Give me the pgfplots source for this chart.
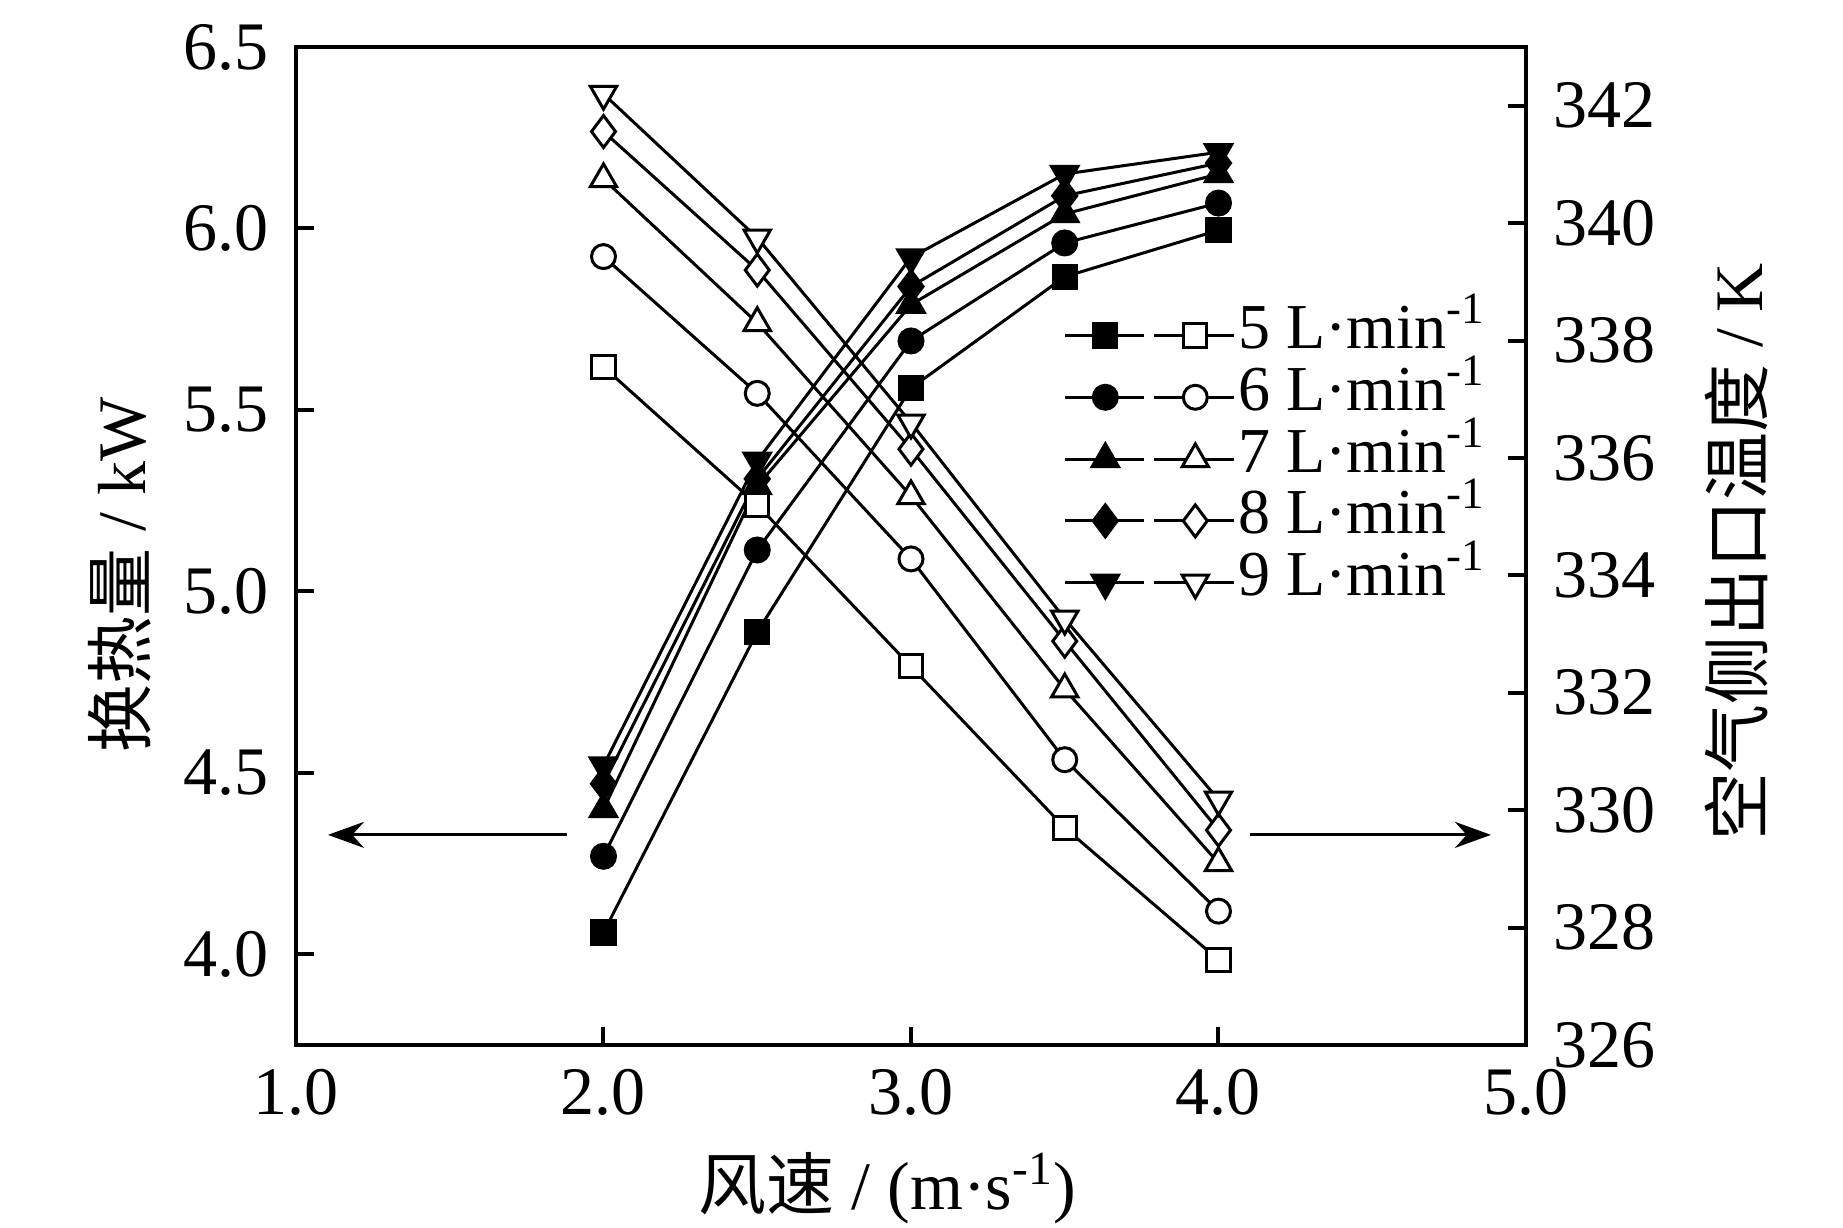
\documentclass[border=0pt]{standalone}
\usepackage{fontspec}
\setmainfont{Liberation Serif}
\newfontfamily\cjk{Noto Sans CJK SC}
\usepackage{pgfplots}
\pgfplotsset{compat=1.18}
\usetikzlibrary{arrows.meta}
\newcommand\fs{\fontsize{17bp}{20bp}\selectfont}
\newcommand\fl{\fontsize{16bp}{19bp}\selectfont}
\pgfplotsset{
  common/.style={
    scale only axis, width=307.5bp, height=249.5bp,
    xmin=1, xmax=5,
    tick align=inside, major tick length=4.5bp,
    axis line style={line width=1bp},
    every tick/.style={line width=1bp, black},
    /pgf/number format/assume math mode=true,
    tick label style={font=\fs},
    every axis plot/.append style={black, line width=0.75bp, mark options={solid, line width=0.75bp}},
  },
}
\tikzset{
  fsq/.style={mark=square*, mark size=2.9bp, mark options={fill=black}},
  fci/.style={mark=*, mark size=3bp, mark options={fill=black}},
  ftr/.style={mark=triangle*, mark size=3.8bp, mark options={fill=black}},
  fdi/.style={mark=diamond*, mark size=4bp, mark options={fill=black}},
  fdt/.style={mark=triangle*, mark size=3.8bp, mark options={fill=black, rotate=180}},
  osq/.style={mark=square*, mark size=2.9bp, mark options={fill=white}},
  oci/.style={mark=*, mark size=3bp, mark options={fill=white}},
  otr/.style={mark=triangle*, mark size=3.8bp, mark options={fill=white}},
  odi/.style={mark=diamond*, mark size=4bp, mark options={fill=white}},
  odt/.style={mark=triangle*, mark size=3.8bp, mark options={fill=white, rotate=180}},
}
\newcommand\legimg[2]{\addlegendimage{legend image code/.code={
  \draw[line width=0.75bp] (0bp,0bp)--(19.75bp,0bp);
  \draw[line width=0.75bp] (22.25bp,0bp)--(42.25bp,0bp);
  \draw[line width=0.75bp, #1] plot coordinates {(10bp,0bp)};
  \draw[line width=0.75bp, #2] plot coordinates {(32.5bp,0bp)};
}}}
\begin{document}
\begin{tikzpicture}
\path[use as bounding box] (-74bp,-45.75bp) rectangle (386.75bp,261.25bp);
\begin{axis}[common,
  ymin=3.75, ymax=6.5,
  xtick={1,2,3,4,5}, ytick={4,4.5,5,5.5,6,6.5},
  xtick pos=bottom, ytick pos=left,
  xticklabel style={/pgf/number format/fixed, /pgf/number format/fixed zerofill, /pgf/number format/precision=1, yshift=-2.6bp},
  yticklabel style={/pgf/number format/fixed, /pgf/number format/fixed zerofill, /pgf/number format/precision=1, xshift=-3.3bp},
  xlabel={{\cjk 风速} / (m·s\textsuperscript{-1})},
  ylabel={{\cjk 换热量} / kW},
  every axis x label/.style={at={(axis description cs:0.481,-0.1433)}, anchor=center, font=\fs},
  every axis y label/.style={at={(axis description cs:-0.1431,0.471)}, anchor=center, rotate=90, font=\fs},
]
\addplot[fsq] coordinates {(2,4.06)(2.5,4.888)(3,5.56)(3.5,5.867)(4,5.995)};
\addplot[fci] coordinates {(2,4.27)(2.5,5.114)(3,5.69)(3.5,5.96)(4,6.07)};
\addplot[ftr] coordinates {(2,4.40)(2.5,5.29)(3,5.79)(3.5,6.04)(4,6.15)};
\addplot[fdi] coordinates {(2,4.47)(2.5,5.31)(3,5.84)(3.5,6.09)(4,6.18)};
\addplot[fdt] coordinates {(2,4.52)(2.5,5.36)(3,5.92)(3.5,6.15)(4,6.21)};
\draw[line width=0.75bp, -{Stealth[length=9bp,width=6.5bp]}] (axis cs:1.881,4.329) -- (axis cs:1.104,4.329);
\draw[line width=0.75bp, -{Stealth[length=9bp,width=6.5bp]}] (axis cs:4.102,4.329) -- (axis cs:4.886,4.329);
\end{axis}
\begin{axis}[common,
  ymin=326, ymax=343,
  axis x line=none, axis y line*=right,
  ytick={326,328,...,342}, ytick pos=right,
  yticklabel style={xshift=3.3bp},
  ylabel={{\cjk 空气侧出口温度} / K},
  every axis y label/.style={at={(axis description cs:1.1715,0.494)}, anchor=center, rotate=90, font=\fs},
  legend style={at={(axis description cs:0.6236,0.7427)}, anchor=north west, draw=none, fill=none,
    inner sep=0pt, row sep=0pt, font=\fl,
    nodes={inner xsep=0.6bp, inner ysep=0pt, text height=11bp, text depth=4.45bp}},
  legend cell align=left,
]
\addplot[osq, forget plot] coordinates {(2,337.55)(2.5,335.2)(3,332.45)(3.5,329.7)(4,327.45)};
\addplot[oci, forget plot] coordinates {(2,339.43)(2.5,337.1)(3,334.28)(3.5,330.86)(4,328.28)};
\addplot[otr, forget plot] coordinates {(2,340.75)(2.5,338.3)(3,335.35)(3.5,332.06)(4,329.1)};
\addplot[odi, forget plot] coordinates {(2,341.56)(2.5,339.2)(3,336.15)(3.5,332.88)(4,329.66)};
\addplot[odt, forget plot] coordinates {(2,342.2)(2.5,339.75)(3,336.6)(3.5,333.26)(4,330.18)};
\legimg{fsq}{osq}\addlegendentry{5 L·min\textsuperscript{-1}}
\legimg{fci}{oci}\addlegendentry{6 L·min\textsuperscript{-1}}
\legimg{ftr}{otr}\addlegendentry{7 L·min\textsuperscript{-1}}
\legimg{fdi}{odi}\addlegendentry{8 L·min\textsuperscript{-1}}
\legimg{fdt}{odt}\addlegendentry{9 L·min\textsuperscript{-1}}
\end{axis}
\end{tikzpicture}
\end{document}
